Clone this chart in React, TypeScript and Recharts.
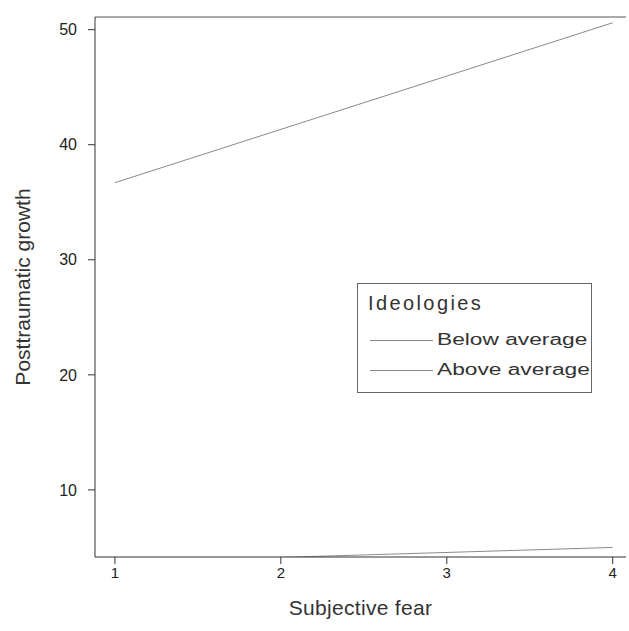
import React from "react";
import { LineChart, Line, XAxis, YAxis, Legend, ReferenceLine } from "recharts";

const fearLevels = [1, 4];
const belowAverage = [3.7, 5.0];
const aboveAverage = [36.7, 50.6];
const xTicks = [1, 2, 3, 4];
const yTicks = [10, 20, 30, 40, 50];
const seriesNames = ["Below average", "Above average"];

const data = fearLevels.map((f, i) => ({
  fear: f,
  below: belowAverage[i],
  above: aboveAverage[i],
}));

const Y_MIN = 4.17;
const Y_MAX = 51.1;
const FONT = "'Liberation Sans', Arial, sans-serif";
const LINE_COLOR = "#8a8a8a";
const AXIS_COLOR = "#333";

const LegendBox = () => (
  <div
    style={{
      position: "absolute",
      left: 357,
      top: 283,
      width: 235,
      height: 110,
      border: "1px solid #666",
      background: "#fff",
      fontFamily: FONT,
      color: "#333",
      boxSizing: "border-box",
    }}
  >
    <div style={{ position: "absolute", left: 10, top: 8, fontSize: 20, letterSpacing: 2.4, whiteSpace: "nowrap" }}>Ideologies</div>
    {seriesNames.map((n, i) => (
      <div
        key={n}
        style={{ position: "absolute", left: 12, top: 47 + i * 30, display: "flex", alignItems: "center", whiteSpace: "nowrap" }}
      >
        <div style={{ width: 63, height: 0, borderTop: `1px solid ${LINE_COLOR}` }} />
        <span
          style={{
            fontSize: 16,
            marginLeft: 4,
            display: "inline-block",
            transform: "scaleX(1.42)",
            transformOrigin: "left center",
          }}
        >
          {n}
        </span>
      </div>
    ))}
  </div>
);

export default function App() {
  return (
    <div style={{ position: "absolute", left: 0, top: 0, width: 629, height: 631, background: "#fff" }}>
      <LineChart
        width={629}
        height={631}
        data={data}
        margin={{ top: 17, right: 3, left: 0, bottom: 0 }}
      >
        <XAxis
          xAxisId="main"
          dataKey="fear"
          type="number"
          domain={[0.88, 4.08]}
          ticks={xTicks}
          allowDataOverflow
          height={74}
          tickSize={7}
          tickMargin={3}
          stroke={AXIS_COLOR}
          tick={{ fill: "#222", fontSize: 15, fontFamily: FONT }}
          label={{ value: "Subjective fear", position: "insideBottom", offset: 16, fill: "#333", fontSize: 21, fontFamily: FONT, letterSpacing: 0.3 }}
        />
        <YAxis
          yAxisId="main"
          type="number"
          domain={[Y_MIN, Y_MAX]}
          ticks={yTicks}
          allowDataOverflow
          width={95}
          tickSize={7}
          tickMargin={11}
          stroke={AXIS_COLOR}
          tick={{ fill: "#222", fontSize: 16, fontFamily: FONT }}
          label={{ value: "Posttraumatic growth", angle: -90, position: "insideLeft", offset: 23, fill: "#333", fontSize: 21, fontFamily: FONT, style: { textAnchor: "middle" } }}
        />
        <ReferenceLine xAxisId="main" yAxisId="main" y={Y_MAX} stroke="#555" strokeWidth={1} ifOverflow="visible" />
        <Line
          xAxisId="main"
          yAxisId="main"
          dataKey="below"
          name={seriesNames[0]}
          stroke={LINE_COLOR}
          strokeWidth={1}
          dot={false}
          isAnimationActive={false}
        />
        <Line
          xAxisId="main"
          yAxisId="main"
          dataKey="above"
          name={seriesNames[1]}
          stroke={LINE_COLOR}
          strokeWidth={1}
          dot={false}
          isAnimationActive={false}
        />
        <Legend content={() => null} />
      </LineChart>
      <LegendBox />
    </div>
  );
}
